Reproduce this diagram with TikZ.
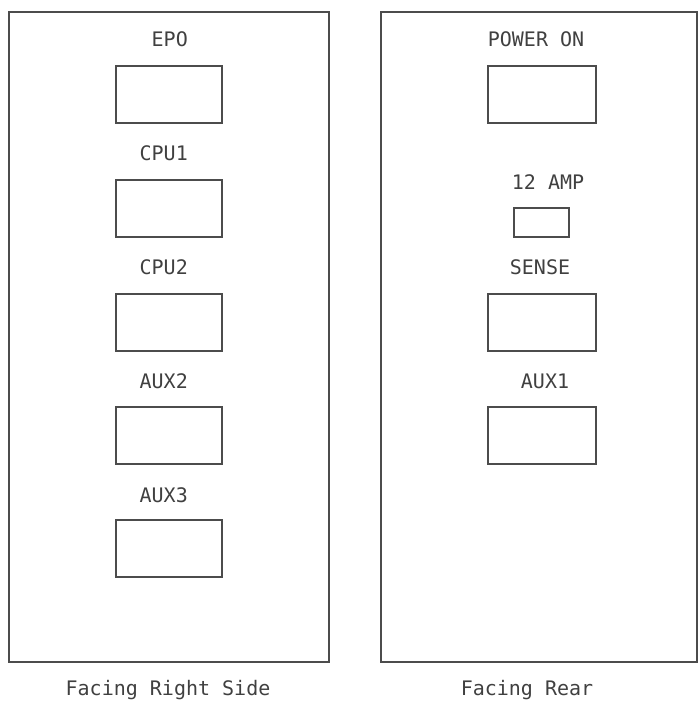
\documentclass[tikz,border=0pt]{standalone}
\usepackage{fontspec}
\setmonofont{DejaVu Sans Mono}
\begin{document}
\begin{tikzpicture}[x=1pt,y=-1pt,
  frame/.style={draw=black!70,line width=1.2pt},
  sw/.style={draw=black!70,line width=1.1pt},
  lbl/.style={font=\ttfamily\fontsize{20}{20}\selectfont,text=black!75,inner sep=0pt},
]
\useasboundingbox (0,0) rectangle (698,704);
% frames
\draw[frame] (9,12) rectangle (329,662);
\draw[frame] (381,12) rectangle (697,662);
% left panel
\node[lbl,anchor=east] (tepo) at (188,39) {EPO};
\draw[sw] (116,66) rectangle (222,123);
\node[lbl,anchor=east] (tcpu1) at (188,153) {CPU1};
\draw[sw] (116,180) rectangle (222,237);
\node[lbl,anchor=east] (tcpu2) at (188,267) {CPU2};
\draw[sw] (116,294) rectangle (222,351);
\node[lbl,anchor=east] (taux2) at (188,381) {AUX2};
\draw[sw] (116,407) rectangle (222,464);
\node[lbl,anchor=east] (taux3) at (188,495) {AUX3};
\draw[sw] (116,520) rectangle (222,577);
% right panel
\node[lbl] (tpower) at (536,39) {POWER ON};
\draw[sw] (488,66) rectangle (596,123);
\node[lbl] (tamp) at (548,182) {12 AMP};
\draw[sw] (514,208) rectangle (569,237);
\node[lbl] (tsense) at (540,267) {SENSE};
\draw[sw] (488,294) rectangle (596,351);
\node[lbl] (taux1) at (545,381) {AUX1};
\draw[sw] (488,407) rectangle (596,464);
% captions
\node[lbl] (cap1) at (168,690) {Facing Right Side};
\node[lbl] (cap2) at (527,690) {Facing Rear};
\end{tikzpicture}
\end{document}
